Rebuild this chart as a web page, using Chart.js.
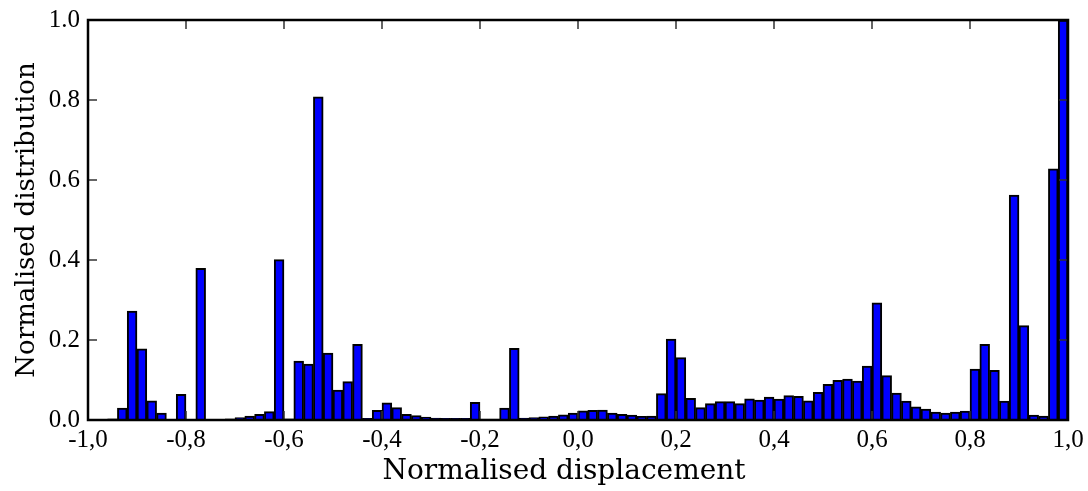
<!DOCTYPE html>
<html>
<head>
<meta charset="utf-8">
<script src="https://cdn.jsdelivr.net/npm/chart.js@4/dist/chart.umd.min.js"></script>
<style>
  body { margin: 0; background: #fff; }
</style>
</head>
<body>
<canvas id="chart" width="1088" height="491"></canvas>
<script>
// histogram bins: 100 bins of width 0.02 from -1 to 1
const binStart = -1;
const binWidth = 0.02;
const binCentres = [];
for (let i = 0; i < 100; i++) binCentres.push(+(binStart + binWidth * (i + 0.5)).toFixed(3));

// normalised distribution per bin
const distribution = [
  0, 0.001, 0.003, 0.03, 0.272, 0.178, 0.048, 0.017, 0, 0.064,
  0, 0.379, 0.001, 0.001, 0.003, 0.006, 0.01, 0.014, 0.021, 0.401,
  0.003, 0.147, 0.14, 0.808, 0.167, 0.075, 0.096, 0.189, 0.004, 0.024,
  0.043, 0.031, 0.014, 0.011, 0.007, 0.005, 0.004, 0.004, 0.004, 0.044,
  0.002, 0.002, 0.03, 0.179, 0.005, 0.006, 0.008, 0.01, 0.013, 0.017,
  0.023, 0.024, 0.025, 0.017, 0.014, 0.012, 0.009, 0.01, 0.066, 0.202,
  0.156, 0.054, 0.031, 0.041, 0.046, 0.046, 0.041, 0.053, 0.05, 0.057,
  0.052, 0.061, 0.059, 0.048, 0.069, 0.089, 0.099, 0.102, 0.097, 0.135,
  0.293, 0.111, 0.067, 0.047, 0.033, 0.027, 0.02, 0.017, 0.02, 0.022,
  0.127, 0.189, 0.124, 0.047, 0.562, 0.236, 0.012, 0.01, 0.628, 1.0
];

const xTickValues = [-1, -0.8, -0.6, -0.4, -0.2, 0, 0.2, 0.4, 0.6, 0.8, 1];
const yTickValues = [0, 0.2, 0.4, 0.6, 0.8, 1];
const xTitle = 'Normalised displacement';
const yTitle = 'Normalised distribution';

const serif = "'DejaVu Serif', serif";
const tickFont = { family: "'Liberation Serif', serif", size: 25 };

// black box plus inward ticks on all four sides, drawn over the bars
const frame = {
  id: 'frame',
  afterDatasetsDraw(chart) {
    const { ctx, chartArea: a, scales: { x, y } } = chart;
    ctx.save();
    ctx.strokeStyle = '#333';
    ctx.lineWidth = 1.5;
    ctx.beginPath();
    yTickValues.forEach(v => {
      const py = Math.round(y.getPixelForValue(v));
      ctx.moveTo(a.left, py); ctx.lineTo(a.left + 9, py);
      ctx.moveTo(a.right, py); ctx.lineTo(a.right - 9, py);
    });
    xTickValues.forEach(v => {
      const px = Math.round(x.getPixelForValue(v));
      ctx.moveTo(px, a.top); ctx.lineTo(px, a.top + 9);
      ctx.moveTo(px, a.bottom); ctx.lineTo(px, a.bottom - 9);
    });
    ctx.stroke();
    ctx.strokeStyle = '#000';
    ctx.lineWidth = 2.5;
    ctx.strokeRect(a.left, a.top, a.right - a.left, a.bottom - a.top);

    // x axis title, sits a little left of the axis centre as in the original
    ctx.fillStyle = '#000';
    ctx.font = '28px ' + serif;
    ctx.textAlign = 'center';
    ctx.textBaseline = 'middle';
    ctx.fillText(xTitle, (a.left + a.right) / 2 - 14, 472);
    ctx.restore();
  }
};

new Chart(document.getElementById('chart'), {
  type: 'bar',
  data: {
    datasets: [{
      data: binCentres.map((c, i) => ({ x: c, y: distribution[i] })),
      backgroundColor: '#0000ff',
      borderColor: '#000',
      borderWidth: 2,
      barPercentage: 1,
      categoryPercentage: 1
    }]
  },
  options: {
    responsive: false,
    animation: false,
    devicePixelRatio: 1,
    layout: { padding: { top: 20, right: 20, left: 0, bottom: 0 } },
    plugins: { legend: { display: false }, tooltip: { enabled: false } },
    scales: {
      x: {
        type: 'linear',
        min: -1,
        max: 1,
        offset: false,
        grid: { display: false, drawTicks: false, offset: false },
        border: { display: false },
        afterBuildTicks: s => { s.ticks = xTickValues.map(v => ({ value: v })); },
        afterFit: s => { s.height = 71; s.paddingLeft = 0; s.paddingRight = 0; },
        ticks: {
          font: tickFont,
          color: '#000',
          padding: 5,
          maxRotation: 0,
          autoSkip: false,
          callback: v => v.toFixed(1).replace('.', ',')
        },
        title: { display: false }
      },
      y: {
        min: 0,
        max: 1,
        grid: { display: false, drawTicks: false },
        border: { display: false },
        afterBuildTicks: s => { s.ticks = yTickValues.map(v => ({ value: v })); },
        afterFit: s => { s.width = 88; s.paddingTop = 0; s.paddingBottom = 0; },
        ticks: {
          font: tickFont,
          color: '#000',
          padding: 8,
          callback: v => v.toFixed(1)
        },
        title: {
          display: true,
          text: yTitle,
          font: { family: serif, size: 26 },
          color: '#000',
          padding: { top: 12, bottom: 0 }
        }
      }
    }
  },
  plugins: [frame]
});
</script>
</body>
</html>
